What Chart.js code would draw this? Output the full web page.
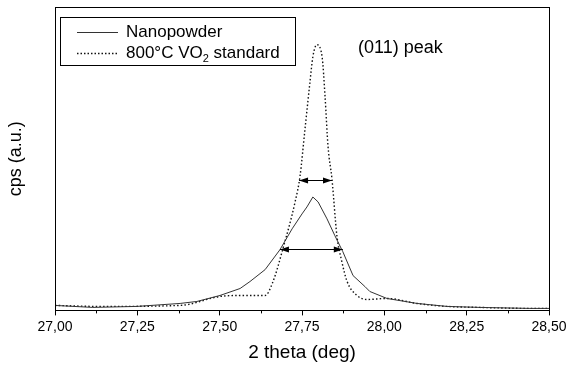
<!DOCTYPE html>
<html>
<head>
<meta charset="utf-8">
<script src="https://cdn.jsdelivr.net/npm/chart.js@4/dist/chart.umd.min.js"></script>
<style>
html,body{margin:0;padding:0;background:#fff;overflow:hidden;}
#wrap{width:568px;height:366px;position:relative;}
</style>
</head>
<body>
<div id="wrap"><canvas id="c" width="568" height="366"></canvas></div>
<script>
// ---- data ----
const seriesNames = ["Nanopowder", "800°C VO", "2", " standard"];
const nanoX = [27.000,27.115,27.249,27.380,27.431,27.501,27.562,27.592,27.638,27.683,27.720,27.750,27.765,27.783,27.799,27.826,27.850,27.874,27.905,27.941,27.956,28.008,28.099,28.190,28.290,28.442,28.500];
const nanoY = [5,3,4,7,9,15,22,29,41,61,82,97,104,114,109,92,75,59,35,24,19,12,7,4,3,2,2];
const stdX  = [27.000,27.137,27.380,27.501,27.562,27.638,27.662,27.692,27.729,27.744,27.759,27.774,27.783,27.795,27.811,27.820,27.829,27.841,27.856,27.871,27.887,27.917,27.947,28.008,28.099,28.190,28.290,28.442,28.500];
const stdY  = [5,4,5,14,15,15,29,62,109,135,182,229,255,267,255,215,165,132,75,49,29,15,11,12,7,4,3,2,2];
const xTicks = [27.00,27.25,27.50,27.75,28.00,28.25,28.50];
const xMinorTicks = [27.125,27.375,27.625,27.875,28.125,28.375];
// FWHM arrows: level and start/end (data units)
const fwhmY  = [131, 62];
const fwhmX1 = [27.741, 27.683];
const fwhmX2 = [27.841, 27.874];
const peakLabel = "(011) peak";
const peakLabelX = 27.920, peakLabelY = 264;
const xTitle = "2 theta (deg)";
const yTitle = "cps (a.u.)";

const toPts = (xs, ys) => xs.map((x, i) => ({x: x, y: ys[i]}));
const FONT = "'Liberation Sans', Arial, sans-serif";

const decorPlugin = {
  id: 'decor',
  afterDraw(chart) {
    const ctx = chart.ctx, a = chart.chartArea;
    const xs = chart.scales.x, ys = chart.scales.y;
    ctx.save();
    // frame
    ctx.strokeStyle = '#000'; ctx.lineWidth = 1;
    ctx.strokeRect(Math.round(a.left) + 0.5, Math.round(a.top) + 0.5, Math.round(a.right - a.left), Math.round(a.bottom - a.top));
    // minor ticks
    ctx.beginPath();
    xMinorTicks.forEach(v => {
      const px = Math.round(xs.getPixelForValue(v)) + 0.5;
      ctx.moveTo(px, a.bottom); ctx.lineTo(px, a.bottom + 3);
    });
    ctx.stroke();
    // FWHM arrows
    ctx.fillStyle = '#000';
    for (let i = 0; i < fwhmY.length; i++) {
      const y = Math.round(ys.getPixelForValue(fwhmY[i])) + 0.5;
      const x1 = xs.getPixelForValue(fwhmX1[i]);
      const x2 = xs.getPixelForValue(fwhmX2[i]);
      ctx.beginPath(); ctx.moveTo(x1, y); ctx.lineTo(x2, y); ctx.stroke();
      const L = 9, W = 3;
      ctx.beginPath(); ctx.moveTo(x1, y); ctx.lineTo(x1 + L, y - W); ctx.lineTo(x1 + L, y + W); ctx.closePath(); ctx.fill();
      ctx.beginPath(); ctx.moveTo(x2, y); ctx.lineTo(x2 - L, y - W); ctx.lineTo(x2 - L, y + W); ctx.closePath(); ctx.fill();
    }
    // peak label
    ctx.font = '18px ' + FONT; ctx.textBaseline = 'middle'; ctx.textAlign = 'left';
    ctx.fillText(peakLabel, xs.getPixelForValue(peakLabelX), ys.getPixelForValue(peakLabelY));
    // legend box
    ctx.strokeRect(60.5, 17.5, 235, 48);
    ctx.lineWidth = 1;
    ctx.strokeStyle = '#333';
    ctx.beginPath(); ctx.moveTo(77, 32.5); ctx.lineTo(118, 32.5); ctx.stroke();
    ctx.setLineDash([1.5, 2]); ctx.lineWidth = 1.3; ctx.strokeStyle = '#111';
    ctx.beginPath(); ctx.moveTo(77, 53.5); ctx.lineTo(118, 53.5); ctx.stroke();
    ctx.setLineDash([]);
    ctx.font = '17px ' + FONT; ctx.fillStyle = '#000';
    ctx.fillText(seriesNames[0], 126, 32);
    let tx = 126;
    ctx.fillText(seriesNames[1], tx, 53); tx += ctx.measureText(seriesNames[1]).width;
    ctx.font = '11px ' + FONT;
    ctx.fillText(seriesNames[2], tx, 59); tx += ctx.measureText(seriesNames[2]).width;
    ctx.font = '17px ' + FONT;
    ctx.fillText(seriesNames[3], tx, 53);
    ctx.restore();
  }
};

new Chart(document.getElementById('c'), {
  type: 'line',
  data: {
    datasets: [
      {label: seriesNames[0], data: toPts(nanoX, nanoY), borderColor: '#333', borderWidth: 1, pointRadius: 0, tension: 0},
      {label: seriesNames[1] + '₂' + seriesNames[3], data: toPts(stdX, stdY), borderColor: '#111', borderWidth: 1.4, borderDash: [1.5, 2.2], pointRadius: 0, tension: 0.3, cubicInterpolationMode: 'monotone'}
    ]
  },
  options: {
    responsive: false,
    animation: false,
    devicePixelRatio: 1,
    layout: {padding: {top: 7, right: 19, left: 0, bottom: 0}},
    plugins: {legend: {display: false}, tooltip: {enabled: false}},
    scales: {
      x: {
        type: 'linear', min: 27, max: 28.5,
        afterBuildTicks: s => { s.ticks = xTicks.map(v => ({value: v})); },
        ticks: {
          color: '#000', font: {family: FONT, size: 14}, padding: 3, maxRotation: 0,
          callback: v => v.toFixed(2).replace('.', ',')
        },
        grid: {display: true, drawOnChartArea: false, drawTicks: true, tickLength: 5, tickColor: '#000', color: '#000'},
        border: {display: false},
        title: {display: true, text: xTitle, color: '#000', font: {family: FONT, size: 19}, padding: {top: 3, bottom: 2}},
        afterFit: s => { s.paddingLeft = 0; s.paddingRight = 0; }
      },
      y: {
        min: 0, max: 305,
        ticks: {display: false},
        grid: {display: false},
        border: {display: false},
        title: {display: true, text: yTitle, color: '#000', font: {family: FONT, size: 18}, padding: {top: 5, bottom: 0}},
        afterFit: s => { s.width = 55; }
      }
    }
  },
  plugins: [decorPlugin]
});
</script>
</body>
</html>
